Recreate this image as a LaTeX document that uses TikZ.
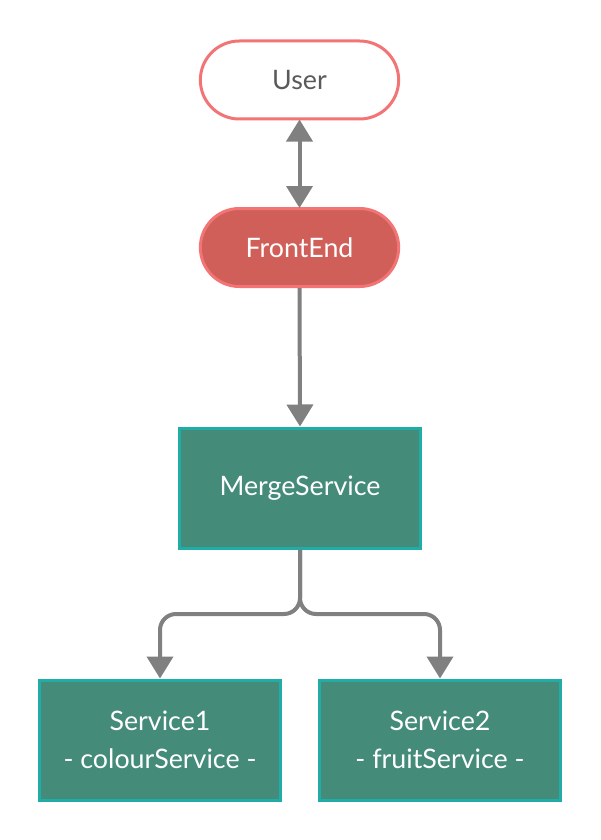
\documentclass[tikz,border=0pt]{standalone}
\usepackage{fontspec}
\setmainfont{Lato}
\usetikzlibrary{arrows.meta,shapes.misc}
\definecolor{salmon}{HTML}{F27474}
\definecolor{redfill}{HTML}{D15F59}
\definecolor{tealfill}{HTML}{448B79}
\definecolor{tealline}{HTML}{20ADA8}
\definecolor{linegray}{HTML}{808080}
\definecolor{textgray}{HTML}{5A5A5A}
\tikzset{
  pill/.style={rounded rectangle, draw=salmon, line width=3pt, minimum width=205pt, minimum height=78pt, font=\fontsize{26.8}{30}\selectfont},
  userbox/.style={pill, fill=white, text=textgray},
  frontbox/.style={pill, fill=redfill, text=white},
  svcbox/.style={rectangle, draw=tealline, fill=tealfill, line width=3pt, minimum width=241pt, minimum height=120pt, text=white, align=center, font=\fontsize{26.8}{38}\selectfont},
  conn/.style={draw=linegray, line width=4pt, -{Triangle[length=22pt,width=26pt]}},
}
\begin{document}
\begin{tikzpicture}[x=1pt,y=-1pt]
\useasboundingbox (0,0) rectangle (600,840);
\node[userbox] (user) at (299.5,80) {User};
\node[frontbox] (front) at (299.5,247.5) {FrontEnd};
\node[svcbox] (merge) at (300,488) {MergeService};
\node[svcbox] (s1) at (160,740) {Service1\\- colourService -};
\node[svcbox] (s2) at (440,740) {Service2\\- fruitService -};
\coordinate (split) at (300,614);
\draw[conn, {Triangle[length=22pt,width=26pt]}-{Triangle[length=22pt,width=26pt]}, shorten <=-1pt, shorten >=-1pt] (user.south) -- (front.north);
\draw[conn] (front.south) -- (merge.north);
\draw[conn, rounded corners=16pt] (merge.south) -- (split) -| (s1.north);
\draw[conn, rounded corners=16pt] (merge.south) -- (split) -| (s2.north);
\end{tikzpicture}
\end{document}
